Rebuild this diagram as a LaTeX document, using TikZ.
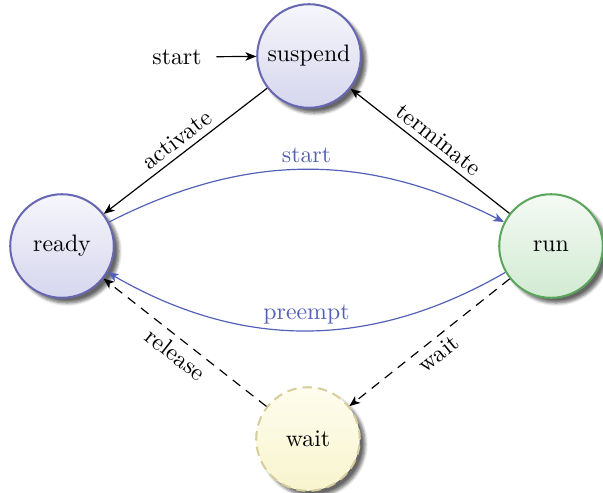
\documentclass[tikz,border=0pt]{standalone}
\usetikzlibrary{arrows.meta,shadows.blur}
\definecolor{stateblue}{RGB}{104,104,178}
\definecolor{stategreen}{RGB}{92,165,92}
\definecolor{statewait}{RGB}{214,206,156}
\definecolor{edgeblue}{RGB}{82,96,184}
\definecolor{bluefilltop}{RGB}{246,246,252}
\definecolor{bluefillbot}{RGB}{214,214,238}
\definecolor{greenfilltop}{RGB}{244,250,244}
\definecolor{greenfillbot}{RGB}{210,234,210}
\definecolor{waitfilltop}{RGB}{254,253,238}
\definecolor{waitfillbot}{RGB}{248,244,206}
\tikzset{
  x=0.42pt, y=-0.42pt,
  state/.style={circle, minimum size=43.5pt, inner sep=0pt, line width=0.85pt,
    blur shadow={shadow xshift=2.2pt, shadow yshift=-2.2pt,
      shadow blur radius=1.3pt, shadow blur steps=6, shadow opacity=60}},
  bluestate/.style={state, draw=stateblue, top color=bluefilltop, bottom color=bluefillbot},
  greenstate/.style={state, draw=stategreen, top color=greenfilltop, bottom color=greenfillbot},
  waitstate/.style={state, draw=statewait, dash pattern=on 4pt off 2.5pt,
    top color=waitfilltop, bottom color=waitfillbot},
  trans/.style={-{Stealth[length=4.5pt,width=3.6pt,inset=1.2pt]}, line width=0.5pt},
  dashtrans/.style={trans, dash pattern=on 4pt off 3pt},
  bluetrans/.style={trans, draw=edgeblue},
  lbl/.style={font=\normalsize, inner sep=2.5pt},
}
\begin{document}
\begin{tikzpicture}
\useasboundingbox (0,0) rectangle (603,492);

\node[bluestate]  (suspend) at (309,56)  {suspend};
\node[bluestate]  (ready)   at (62,246)  {ready};
\node[greenstate] (run)     at (551,246) {run};
\node[waitstate]  (wait)    at (308,439) {wait};

\node[inner sep=6pt] (init) at (177,57) {start};
\draw[trans] (init) -- (suspend);

\draw[trans] (suspend) -- node[lbl, sloped, above] {activate} (ready);
\draw[trans] (run) -- node[lbl, sloped, above] {terminate} (suspend);

\draw[bluetrans] (ready) to[bend left=27]
  node[lbl, above, text=edgeblue] {start} (run);
\draw[bluetrans] (run) to[bend left=30]
  node[lbl, above, text=edgeblue] {preempt} (ready);

\draw[dashtrans] (run) -- node[lbl, sloped, below] {wait} (wait);
\draw[dashtrans] (wait) -- node[lbl, sloped, below] {release} (ready);
\end{tikzpicture}
\end{document}
